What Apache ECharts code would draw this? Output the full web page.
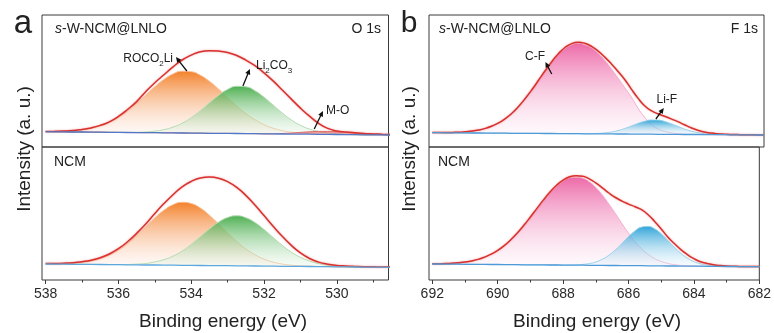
<!DOCTYPE html>
<html>
<head>
<meta charset="utf-8">
<script src="https://cdn.jsdelivr.net/npm/echarts@6/dist/echarts.min.js"></script>
<style>
  html, body { margin: 0; padding: 0; background: #fff; }
  #chart { width: 774px; height: 333px; }
</style>
</head>
<body>
<div id="chart"></div>
<script>
// ---------- O 1s spectra (binding energy in eV, intensity above panel floor) ----------
const oEnergy = [538.0,537.75,537.5,537.25,537.0,536.75,536.5,536.25,536.0,535.75,
  535.5,535.25,535.0,534.75,534.5,534.25,534.0,533.75,533.5,533.25,
  533.0,532.75,532.5,532.25,532.0,531.75,531.5,531.25,531.0,530.75,
  530.5,530.25,530.0,529.75,529.5,529.25,529.0,528.75,528.5];

// s-W-NCM@LNLO
const oBgTop = [15.3,15.2,15.1,15.0,15.0,14.9,14.8,14.7,14.6,14.5,
  14.4,14.3,14.3,14.2,14.1,14.0,13.9,13.8,13.7,13.6,
  13.6,13.5,13.4,13.3,13.2,13.1,13.0,12.9,12.9,12.8,
  12.7,12.6,12.5,12.4,12.3,12.2,12.2,12.1,12.0];
const oFitTop = [0.3,0.5,0.8,1.4,2.6,4.2,6.8,10.5,16,23,
  31,41,50,58,66,73,78,81.5,82.5,82.3,
  81,78,73.5,68,61,53,44,35,26,18,
  11,6,3.5,2.6,1.9,1.3,0.9,0.6,0.4];
const oROCO2LiTop = [0.1,0.3,0.6,1.2,2.2,3.8,6.3,10,15.1,21.5,
  29.2,37.6,46,53.4,59,61.8,61.4,58,52,44.4,
  35.9,27.6,20.1,14,9.2,5.7,3.4,1.9,1.0,0.5,
  0.2,0,0,0,0,0,0,0,0];
const oLi2CO3Top = [0,0,0,0,0,0,0,0,0,0,
  0.3,0.7,1.6,3.1,5.8,9.8,15.4,22.5,30.4,38,
  44,47.2,46.8,43,36.6,28.8,21,14.2,8.8,5.1,
  2.8,1.4,0.6,0.3,0,0,0,0,0];
const oMOTop = [0,0,0,0,0,0,0,0,0,0,
  0,0,0,0,0,0,0,0,0,0,
  0,0,0,0,0,0,0.5,1.0,1.7,2.4,
  2.9,3.0,2.7,2.1,1.4,0.9,0.5,0.3,0.1];

// NCM
const oBgBot = [16.0,15.9,15.8,15.7,15.7,15.6,15.5,15.4,15.3,15.2,
  15.1,15.0,15.0,14.9,14.8,14.7,14.6,14.5,14.4,14.3,
  14.3,14.2,14.1,14.0,13.9,13.8,13.7,13.6,13.6,13.5,
  13.4,13.3,13.2,13.1,13.0,12.9,12.9,12.8,12.7];
const oFitBot = [0.4,0.6,1.0,1.6,2.6,4.2,6.8,10.6,16,23,
  31.5,41,51.5,61.5,70.5,78.5,84,87.5,88.5,87.5,
  84,78.5,70.5,61,50.5,40,30,21,13.5,8,
  4.5,2.5,1.4,0.9,0.6,0.4,0.3,0.2,0.2];
const oROCO2LiBot = [0.1,0.2,0.5,1.0,1.8,3.3,5.7,9.4,14.5,21.2,
  29.3,38.2,47.2,54.9,60.5,63,61.9,57.5,50.4,41.8,
  32.8,24.3,17,11.3,7,4.1,2.3,1.2,0.6,0.3,
  0.1,0,0,0,0,0,0,0,0];
const oLi2CO3Bot = [0,0,0,0,0,0,0,0,0.1,0.3,
  0.8,1.5,3.1,5.5,9.1,14.3,21,28.7,36.6,43.5,
  48.2,50,48.2,43.5,36.6,28.7,21,14.3,9.1,5.5,
  3.1,1.5,0.8,0.3,0.1,0,0,0,0];

// ---------- F 1s spectra ----------
const fEnergy = [692.0,691.8,691.6,691.4,691.2,691.0,690.8,690.6,690.4,690.2,
  690.0,689.8,689.6,689.4,689.2,689.0,688.8,688.6,688.4,688.2,
  688.0,687.8,687.6,687.4,687.2,687.0,686.8,686.6,686.4,686.2,
  686.0,685.8,685.6,685.4,685.2,685.0,684.8,684.6,684.4,684.2,
  684.0,683.8,683.6,683.4,683.2,683.0,682.8,682.6,682.4,682.2,
  682.0];

// s-W-NCM@LNLO
const fBgTop = [14.3,14.3,14.2,14.2,14.1,14.1,14.0,14.0,13.9,13.9,
  13.8,13.8,13.7,13.7,13.7,13.6,13.6,13.5,13.5,13.4,
  13.4,13.3,13.3,13.2,13.2,13.1,13.1,13.1,13.0,13.0,
  12.9,12.9,12.8,12.8,12.7,12.7,12.6,12.6,12.5,12.5,
  12.5,12.4,12.4,12.3,12.3,12.2,12.2,12.1,12.1,12.0,
  12.0];
const fFitTop = [0.1,0.1,0.2,0.4,0.7,1.2,1.9,3.0,4.7,7.1,
  10.3,14.6,20.1,26.9,34.8,43.6,53.1,62.7,71.8,79.9,
  86.1,90.1,91.5,90.5,87.5,82.8,76.8,70.0,62.5,54.5,
  45,36,28.5,23.5,20.5,18,15.5,12.8,9.8,6.8,
  4.3,2.6,1.5,0.9,0.5,0.3,0.2,0.1,0.1,0.1,
  0.1];
const fCFTop = [0.1,0.1,0.2,0.3,0.6,1.1,1.8,2.9,4.6,6.9,
  10.1,14.3,19.7,26.4,34.2,43,52.3,62,71,79,
  85,89,90.5,89,86,80.5,73.5,65,56,46.5,
  37,26,17,10,5.5,3,1.6,0.8,0.4,0.2,
  0.1,0,0,0,0,0,0,0,0,0,
  0];
const fLiFTop = [0,0,0,0,0,0,0,0,0,0,
  0,0,0,0,0,0,0,0,0,0,
  0,0,0,0.1,0.2,0.5,1.0,1.9,3.4,5.5,
  8.1,10.7,12.9,14.2,14.2,12.9,10.7,8.1,5.5,3.4,
  1.9,1.0,0.5,0.2,0.1,0,0,0,0,0,
  0];

// NCM
const fBgBot = [16.0,16.0,15.9,15.8,15.8,15.7,15.7,15.6,15.6,15.5,
  15.5,15.4,15.4,15.3,15.2,15.2,15.1,15.1,15.0,15.0,
  14.9,14.9,14.8,14.8,14.7,14.6,14.6,14.5,14.5,14.4,
  14.4,14.3,14.3,14.2,14.1,14.1,14.0,14.0,13.9,13.9,
  13.8,13.8,13.7,13.7,13.6,13.5,13.5,13.4,13.4,13.3,
  13.3];
const fFitBot = [0.2,0.3,0.5,0.9,1.4,2.2,3.4,5.0,7.3,10.3,
  14.1,19,24.9,31.8,39.5,47.8,56.5,65,72.9,79.7,
  85,88.3,89.5,89,86.5,82.5,77.5,72.5,68,64.5,
  61.5,59,56,51,44.5,37,29,22.5,16.5,11.5,
  7.5,4.5,2.8,1.6,0.9,0.5,0.3,0.2,0.1,0.1,
  0.1];
const fCFBot = [0.2,0.3,0.5,0.8,1.3,2.1,3.3,4.9,7.2,10.2,
  13.9,18.8,24.6,31.4,39,47.2,55.8,64.2,72,78.7,
  84,87.3,88,87,83.5,78,70.5,61.5,52,42,
  32.5,24,17,11.5,7.3,4.5,2.6,1.4,0.7,0.3,
  0.1,0,0,0,0,0,0,0,0,0,
  0];
const fLiFBot = [0,0,0,0,0,0,0,0,0,0,
  0,0,0,0,0,0,0,0,0,0,
  0,0.1,0.3,0.8,1.7,3.4,6.2,10.2,15.7,22.2,
  29,34.8,38.6,39.4,37.1,32.1,25.7,18.9,12.8,8.0,
  4.6,2.4,1.2,0.5,0.2,0.1,0,0,0,0,
  0];

// ---------- axis ticks ----------
const oMajorTicks = [538, 536, 534, 532, 530];
const oMinorTicks = [537, 535, 533, 531, 529];
const fMajorTicks = [692, 690, 688, 686, 684, 682];
const fMinorTicks = [691, 689, 687, 685, 683];

// ---------- styling ----------
const FONT = '"Liberation Sans", Arial, Helvetica, sans-serif';
const TXT = '#222';
const FRAME = '#3a3a3a';

const chart = echarts.init(document.getElementById('chart'), null, { renderer: 'canvas' });

function grad(top, bottom) {
  return new echarts.graphic.LinearGradient(0, 0, 0, 1, [
    { offset: 0, color: top },
    { offset: 1, color: bottom }
  ]);
}
const FILL = {
  orange: grad('rgba(243,128,40,0.98)', 'rgba(253,232,224,0.25)'),
  green:  grad('rgba(66,170,70,0.93)',  'rgba(228,244,228,0.25)'),
  pink:   grad('rgba(236,98,164,0.95)', 'rgba(252,232,242,0.25)'),
  blue:   grad('rgba(38,160,214,0.95)', 'rgba(226,242,250,0.25)'),
  red:    grad('rgba(222,70,70,0.75)',  'rgba(240,170,170,0.4)')
};

// rows are [intensity, energy] so that stacking acts on the intensity column
function rows(E, v) { return E.map((e, i) => [v[i], e]); }
const DIMS = ['intensity', 'energy'];
const ENC = { x: 'energy', y: 'intensity' };

// A curve stacked on top of its background so the fill runs down to the background line.
function onBackground(key, ax, E, bg, vals, line, fill, z) {
  const out = [{
    type: 'line', name: key + '-bg', stack: key, xAxisIndex: ax, yAxisIndex: ax,
    dimensions: DIMS, encode: ENC,
    data: rows(E, bg), symbol: 'none', silent: true, z: z,
    lineStyle: { opacity: 0 }
  }, {
    type: 'line', name: key, stack: key, xAxisIndex: ax, yAxisIndex: ax,
    dimensions: DIMS, encode: ENC,
    data: rows(E, vals), symbol: 'none', smooth: true, silent: true, z: z,
    lineStyle: line
  }];
  if (fill) out[1].areaStyle = { color: fill, opacity: 1 };
  return out;
}
function envelope(key, ax, E, bg, vals) {
  return onBackground(key, ax, E, bg, vals,
    { color: '#d8312e', width: 1.5, shadowColor: 'rgba(232,120,120,0.7)', shadowBlur: 2 }, null, 6);
}
function background(ax, E, bg, color) {
  return {
    type: 'line', xAxisIndex: ax, yAxisIndex: ax, dimensions: DIMS, encode: ENC, data: rows(E, bg),
    symbol: 'none', silent: true, z: 7, lineStyle: { color: color, width: 1.3 }
  };
}

const series = [].concat(
  // O 1s, s-W-NCM@LNLO
  onBackground('oRocoT', 0, oEnergy, oBgTop, oROCO2LiTop, { color: '#f7c09a', width: 1 }, FILL.orange, 2),
  onBackground('oLiT', 0, oEnergy, oBgTop, oLi2CO3Top, { color: '#b4dcb2', width: 1 }, FILL.green, 3),
  onBackground('oMoT', 0, oEnergy, oBgTop, oMOTop, { color: '#e06a6a', width: 1 }, FILL.red, 4),
  envelope('oFitT', 0, oEnergy, oBgTop, oFitTop),
  [background(0, oEnergy, oBgTop, '#4f78c8')],
  // O 1s, NCM
  onBackground('oRocoB', 1, oEnergy, oBgBot, oROCO2LiBot, { color: '#f7c09a', width: 1 }, FILL.orange, 2),
  onBackground('oLiB', 1, oEnergy, oBgBot, oLi2CO3Bot, { color: '#b4dcb2', width: 1 }, FILL.green, 3),
  envelope('oFitB', 1, oEnergy, oBgBot, oFitBot),
  [background(1, oEnergy, oBgBot, '#5ca8de')],
  // F 1s, s-W-NCM@LNLO
  onBackground('fCfT', 2, fEnergy, fBgTop, fCFTop, { color: '#f4b0d0', width: 1 }, FILL.pink, 2),
  onBackground('fLiT', 2, fEnergy, fBgTop, fLiFTop, { color: '#9ad2ec', width: 1 }, FILL.blue, 3),
  envelope('fFitT', 2, fEnergy, fBgTop, fFitTop),
  [background(2, fEnergy, fBgTop, '#4e9ad8')],
  // F 1s, NCM
  onBackground('fCfB', 3, fEnergy, fBgBot, fCFBot, { color: '#f4b0d0', width: 1 }, FILL.pink, 2),
  onBackground('fLiB', 3, fEnergy, fBgBot, fLiFBot, { color: '#9ad2ec', width: 1 }, FILL.blue, 3),
  envelope('fFitB', 3, fEnergy, fBgBot, fFitBot),
  [background(3, fEnergy, fBgBot, '#4e9ad8')]
);

const LEFT = { left: 42, width: 346.5 };
const RIGHT = { left: 429, width: 335 };
const gridBase = { show: true, borderColor: FRAME, borderWidth: 1, backgroundColor: 'transparent', containLabel: false };
const grids = [
  Object.assign({}, gridBase, LEFT, { top: 15, height: 132 }),
  Object.assign({}, gridBase, LEFT, { top: 147, height: 133 }),
  Object.assign({}, gridBase, RIGHT, { top: 15, height: 132 }),
  Object.assign({}, gridBase, RIGHT, { top: 147, height: 133 })
];

function hiddenX(g, min, max) {
  return { type: 'value', gridIndex: g, min: min, max: max, inverse: true, show: false };
}
function majorX(g, min, max, ticks) {
  return {
    type: 'value', gridIndex: g, min: min, max: max, inverse: true, position: 'bottom',
    splitLine: { show: false },
    axisLine: { show: false },
    axisTick: { show: true, inside: false, length: 4, customValues: ticks, lineStyle: { color: FRAME, width: 1 } },
    axisLabel: { show: true, customValues: ticks, margin: 7, fontSize: 14, color: '#2a2a2a', fontFamily: FONT,
      alignMinLabel: 'center', alignMaxLabel: 'center', hideOverlap: false,
      formatter: v => String(v) }
  };
}
function minorX(g, min, max, ticks) {
  return {
    type: 'value', gridIndex: g, min: min, max: max, inverse: true, position: 'bottom',
    splitLine: { show: false },
    axisLine: { show: false },
    axisTick: { show: true, inside: false, length: 2.5, customValues: ticks, lineStyle: { color: FRAME, width: 1 } },
    axisLabel: { show: false }
  };
}
const O_MIN = 528.58, O_MAX = 538.1, F_MIN = 682.0, F_MAX = 692.1;
const xAxes = [
  hiddenX(0, O_MIN, O_MAX),
  majorX(1, O_MIN, O_MAX, oMajorTicks),
  hiddenX(2, F_MIN, F_MAX),
  majorX(3, F_MIN, F_MAX, fMajorTicks),
  minorX(1, O_MIN, O_MAX, oMinorTicks),
  minorX(3, F_MIN, F_MAX, fMinorTicks)
];
const yAxes = [0, 1, 2, 3].map(g => ({
  type: 'value', gridIndex: g, min: 0, max: (g % 2 === 0) ? 132 : 133, show: false
}));

chart.setOption({
  animation: false,
  backgroundColor: '#ffffff',
  grid: grids,
  xAxis: xAxes,
  yAxis: yAxes,
  series: series
});

// ---------- text and peak annotations ----------
function txt(x, y, text, size, align, vAlign, extra) {
  return Object.assign({
    type: 'text', x: x, y: y, silent: true, z: 20,
    style: Object.assign({
      text: text, fontSize: size, fontFamily: FONT, fill: TXT,
      align: align, textAlign: align, verticalAlign: vAlign, textVerticalAlign: vAlign
    }, (extra && extra.style) || {})
  }, (extra && extra.el) || {});
}
const subRich = {
  n: { fontSize: 12, fontFamily: FONT, fill: TXT, color: TXT, verticalAlign: 'top' },
  s: { fontSize: 8, fontFamily: FONT, fill: TXT, color: TXT, verticalAlign: 'top', padding: [7, 0, 0, 0] }
};
const italicRich = {
  i: { fontSize: 14, fontFamily: FONT, fontStyle: 'italic', fill: TXT, color: TXT },
  n: { fontSize: 14, fontFamily: FONT, fill: TXT, color: TXT }
};

// peak labels: anchor in data space of a panel, arrow drawn from the peak toward the label
const peakNotes = [
  { panel: 0, text: '{n|ROCO}{s|2}{n|Li}', at: [534.5, 87], align: 'right', from: [534.12, 76], to: [534.42, 90] },
  { panel: 0, text: '{n|Li}{s|2}{n|CO}{s|3}', at: [532.22, 80], align: 'left', from: [532.58, 61], to: [532.39, 78] },
  { panel: 0, text: '{n|M-O}', at: [530.3, 36], align: 'left', from: [530.62, 18], to: [530.38, 36] },
  { panel: 2, text: '{n|C-F}', at: [688.6, 90], align: 'right', from: [688.4, 73], to: [688.59, 85] },
  { panel: 2, text: '{n|Li-F}', at: [684.93, 47], align: 'center', from: [685.26, 28], to: [685.02, 39] }
];

const graphics = [
  txt(23, 24, 'a', 33, 'center', 'middle'),
  txt(409, 24, 'b', 30, 'center', 'middle'),
  txt(55, 29, '{i|s}{n|-W-NCM@LNLO}', 14, 'left', 'middle', { style: { rich: italicRich } }),
  txt(439, 29, '{i|s}{n|-W-NCM@LNLO}', 14, 'left', 'middle', { style: { rich: italicRich } }),
  txt(381, 29, 'O 1s', 14, 'right', 'middle'),
  txt(758, 29, 'F 1s', 14, 'right', 'middle'),
  txt(54, 162, 'NCM', 14, 'left', 'middle'),
  txt(438, 162, 'NCM', 14, 'left', 'middle'),
  txt(223, 322, 'Binding energy (eV)', 19, 'center', 'middle'),
  txt(597, 322, 'Binding energy (eV)', 19, 'center', 'middle'),
  txt(25, 149, 'Intensity (a. u.)', 19, 'center', 'middle', { el: { rotation: Math.PI / 2 } }),
  txt(410, 149, 'Intensity (a. u.)', 19, 'center', 'middle', { el: { rotation: Math.PI / 2 } })
];

peakNotes.forEach(function (n) {
  const finder = { xAxisIndex: n.panel, yAxisIndex: n.panel };
  const p = chart.convertToPixel(finder, n.at);
  const a = chart.convertToPixel(finder, n.from);
  const b = chart.convertToPixel(finder, n.to);
  graphics.push(txt(p[0], p[1], n.text, 12, n.align, 'middle', { style: { rich: subRich } }));
  const dx = b[0] - a[0], dy = b[1] - a[1];
  const len = Math.sqrt(dx * dx + dy * dy);
  const ux = dx / len, uy = dy / len;
  const hl = 5.5, hw = 2.6;
  const bx = b[0] - ux * hl, by = b[1] - uy * hl;
  graphics.push({
    type: 'line', silent: true, z: 20,
    shape: { x1: a[0], y1: a[1], x2: bx + ux, y2: by + uy },
    style: { stroke: '#111', lineWidth: 1.3 }
  });
  graphics.push({
    type: 'polygon', silent: true, z: 20,
    shape: { points: [[b[0], b[1]], [bx - uy * hw, by + ux * hw], [bx + uy * hw, by - ux * hw]] },
    style: { fill: '#111' }
  });
});

chart.setOption({ graphic: graphics });
</script>
</body>
</html>
